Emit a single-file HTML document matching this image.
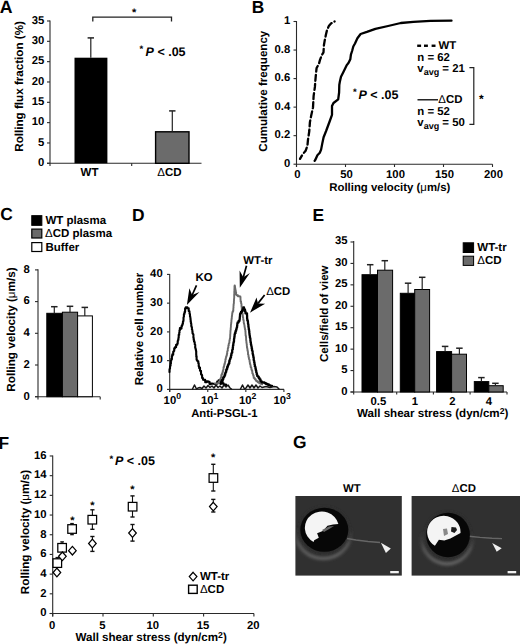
<!DOCTYPE html>
<html><head><meta charset="utf-8"><style>
html,body{margin:0;padding:0;background:#fff;width:520px;height:644px;overflow:hidden}
svg{display:block;font-family:"Liberation Sans", sans-serif;text-rendering:geometricPrecision}
</style></head><body>
<svg width="520" height="644" viewBox="0 0 520 644">
<defs>
<filter id="bl1" x="-20%" y="-20%" width="140%" height="140%"><feGaussianBlur stdDeviation="1.6"/></filter><filter id="bl05" x="-10%" y="-50%" width="120%" height="200%"><feGaussianBlur stdDeviation="0.5"/></filter><filter id="bl03" x="-10%" y="-10%" width="120%" height="120%"><feGaussianBlur stdDeviation="0.35"/></filter><linearGradient id="hg" x1="0" y1="0" x2="0" y2="1"><stop offset="0.35" stop-color="#3a3a3a" stop-opacity="0"/><stop offset="0.7" stop-color="#5a5a5a" stop-opacity="0.9"/><stop offset="1" stop-color="#666" stop-opacity="1"/></linearGradient><radialGradient id="halo" cx="0.5" cy="0.5" r="0.5"><stop offset="0.80" stop-color="#5c5c5c" stop-opacity="0.9"/><stop offset="0.9" stop-color="#555" stop-opacity="0.6"/><stop offset="1" stop-color="#444" stop-opacity="0"/></radialGradient>
</defs>
<rect width="520" height="644" fill="#fff"/>
<text id="t1" x="-0.30" y="12.60" font-size="17.7" text-anchor="start" font-weight="bold" font-style="normal" fill="#000" >A</text>
<line x1="50.00" y1="20.50" x2="50.00" y2="166.00" stroke="#2a2a2a" stroke-width="1.1" />
<line x1="47.00" y1="163.30" x2="50.00" y2="163.30" stroke="#2a2a2a" stroke-width="1.1" />
<text id="t2" x="44.30" y="166.10" font-size="11.3" text-anchor="end" font-weight="bold" font-style="normal" fill="#000" >0</text>
<line x1="47.00" y1="142.97" x2="50.00" y2="142.97" stroke="#2a2a2a" stroke-width="1.1" />
<text id="t3" x="44.30" y="145.77" font-size="11.3" text-anchor="end" font-weight="bold" font-style="normal" fill="#000" >5</text>
<line x1="47.00" y1="122.64" x2="50.00" y2="122.64" stroke="#2a2a2a" stroke-width="1.1" />
<text id="t4" x="44.30" y="125.44" font-size="11.3" text-anchor="end" font-weight="bold" font-style="normal" fill="#000" >10</text>
<line x1="47.00" y1="102.31" x2="50.00" y2="102.31" stroke="#2a2a2a" stroke-width="1.1" />
<text id="t5" x="44.30" y="105.11" font-size="11.3" text-anchor="end" font-weight="bold" font-style="normal" fill="#000" >15</text>
<line x1="47.00" y1="81.98" x2="50.00" y2="81.98" stroke="#2a2a2a" stroke-width="1.1" />
<text id="t6" x="44.30" y="84.78" font-size="11.3" text-anchor="end" font-weight="bold" font-style="normal" fill="#000" >20</text>
<line x1="47.00" y1="61.65" x2="50.00" y2="61.65" stroke="#2a2a2a" stroke-width="1.1" />
<text id="t7" x="44.30" y="64.45" font-size="11.3" text-anchor="end" font-weight="bold" font-style="normal" fill="#000" >25</text>
<line x1="47.00" y1="41.32" x2="50.00" y2="41.32" stroke="#2a2a2a" stroke-width="1.1" />
<text id="t8" x="44.30" y="44.12" font-size="11.3" text-anchor="end" font-weight="bold" font-style="normal" fill="#000" >30</text>
<line x1="47.00" y1="20.99" x2="50.00" y2="20.99" stroke="#2a2a2a" stroke-width="1.1" />
<text id="t9" x="44.30" y="23.79" font-size="11.3" text-anchor="end" font-weight="bold" font-style="normal" fill="#000" >35</text>
<line x1="47.00" y1="163.30" x2="201.50" y2="163.30" stroke="#2a2a2a" stroke-width="1.1" />
<line x1="131.70" y1="163.30" x2="131.70" y2="166.00" stroke="#2a2a2a" stroke-width="1.1" />
<rect x="74.50" y="57.70" width="32.90" height="105.60" fill="#000"/>
<line x1="90.80" y1="57.70" x2="90.80" y2="37.90" stroke="#222" stroke-width="1.2" />
<line x1="87.60" y1="37.90" x2="94.00" y2="37.90" stroke="#222" stroke-width="1.5" />
<rect x="155.60" y="131.80" width="33.40" height="31.50" fill="#6b6b6b" stroke="#000" stroke-width="1.4"/>
<line x1="172.30" y1="131.80" x2="172.30" y2="110.90" stroke="#222" stroke-width="1.2" />
<line x1="169.10" y1="110.90" x2="175.50" y2="110.90" stroke="#222" stroke-width="1.5" />
<text id="t10" x="89.50" y="176.10" font-size="11.5" text-anchor="middle" font-weight="bold" font-style="normal" fill="#000" >WT</text>
<text id="t11" x="169.40" y="176.10" font-size="11.5" text-anchor="middle" font-weight="bold" font-style="normal" fill="#000" ><tspan font-weight="normal">Δ</tspan>CD</text>
<polyline points="92.8,21.6 92.8,17.1 171.5,17.1 171.5,21.6" fill="none" stroke="#222" stroke-width="1.3"/>
<text id="t12" x="134.20" y="16.40" font-size="11" text-anchor="middle" font-weight="bold" font-style="normal" fill="#000" >*</text>
<text id="t13" x="139.60" y="52.30" font-size="9.5" text-anchor="start" font-weight="bold" font-style="normal" fill="#000" >*</text>
<text id="t14" x="145.60" y="55.70" font-size="12.5" text-anchor="start" font-weight="bold" font-style="normal" fill="#000" ><tspan font-style="italic">P</tspan> &lt; .05</text>
<text id="t15" transform="translate(22.70,86.40) rotate(-90)" font-size="11.65" text-anchor="middle" font-weight="bold">Rolling flux fraction (%)</text>
<text id="t16" x="251.80" y="12.60" font-size="17.4" text-anchor="start" font-weight="bold" font-style="normal" fill="#000" >B</text>
<line x1="296.50" y1="21.00" x2="296.50" y2="167.00" stroke="#2a2a2a" stroke-width="1.1" />
<line x1="293.50" y1="164.20" x2="296.50" y2="164.20" stroke="#2a2a2a" stroke-width="1.1" />
<text id="t17" x="290.30" y="166.80" font-size="11.3" text-anchor="end" font-weight="bold" font-style="normal" fill="#000" >0</text>
<line x1="293.50" y1="135.66" x2="296.50" y2="135.66" stroke="#2a2a2a" stroke-width="1.1" />
<text id="t18" x="290.30" y="138.26" font-size="11.3" text-anchor="end" font-weight="bold" font-style="normal" fill="#000" >0.2</text>
<line x1="293.50" y1="107.12" x2="296.50" y2="107.12" stroke="#2a2a2a" stroke-width="1.1" />
<text id="t19" x="290.30" y="109.72" font-size="11.3" text-anchor="end" font-weight="bold" font-style="normal" fill="#000" >0.4</text>
<line x1="293.50" y1="78.58" x2="296.50" y2="78.58" stroke="#2a2a2a" stroke-width="1.1" />
<text id="t20" x="290.30" y="81.18" font-size="11.3" text-anchor="end" font-weight="bold" font-style="normal" fill="#000" >0.6</text>
<line x1="293.50" y1="50.04" x2="296.50" y2="50.04" stroke="#2a2a2a" stroke-width="1.1" />
<text id="t21" x="290.30" y="52.64" font-size="11.3" text-anchor="end" font-weight="bold" font-style="normal" fill="#000" >0.8</text>
<line x1="293.50" y1="21.50" x2="296.50" y2="21.50" stroke="#2a2a2a" stroke-width="1.1" />
<text id="t22" x="290.30" y="24.10" font-size="11.3" text-anchor="end" font-weight="bold" font-style="normal" fill="#000" >1</text>
<line x1="296.50" y1="164.20" x2="492.50" y2="164.20" stroke="#2a2a2a" stroke-width="1.1" />
<line x1="296.50" y1="164.20" x2="296.50" y2="167.00" stroke="#2a2a2a" stroke-width="1.1" />
<text id="t23" x="297.50" y="178.20" font-size="11.3" text-anchor="middle" font-weight="bold" font-style="normal" fill="#000" >0</text>
<line x1="345.50" y1="164.20" x2="345.50" y2="167.00" stroke="#2a2a2a" stroke-width="1.1" />
<text id="t24" x="346.50" y="178.20" font-size="11.3" text-anchor="middle" font-weight="bold" font-style="normal" fill="#000" >50</text>
<line x1="394.50" y1="164.20" x2="394.50" y2="167.00" stroke="#2a2a2a" stroke-width="1.1" />
<text id="t25" x="395.50" y="178.20" font-size="11.3" text-anchor="middle" font-weight="bold" font-style="normal" fill="#000" >100</text>
<line x1="443.50" y1="164.20" x2="443.50" y2="167.00" stroke="#2a2a2a" stroke-width="1.1" />
<text id="t26" x="444.50" y="178.20" font-size="11.3" text-anchor="middle" font-weight="bold" font-style="normal" fill="#000" >150</text>
<line x1="492.50" y1="164.20" x2="492.50" y2="167.00" stroke="#2a2a2a" stroke-width="1.1" />
<text id="t27" x="493.50" y="178.20" font-size="11.3" text-anchor="middle" font-weight="bold" font-style="normal" fill="#000" >200</text>
<text id="t28" x="389.80" y="190.50" font-size="11.4" text-anchor="middle" font-weight="bold" font-style="normal" fill="#000" >Rolling velocity (<tspan font-weight="normal">μ</tspan>m/s)</text>
<text id="t29" transform="translate(266.60,91.20) rotate(-90)" font-size="11.58" text-anchor="middle" font-weight="bold">Cumulative frequency</text>
<polyline points="300.0,158.9 302.5,154.6 305.6,150.8 307.4,145.9 308.0,139.7 309.3,131.0 309.9,122.3 311.1,116.1 313.0,107.4 313.6,96.2 314.9,86.9 315.4,80.2 316.0,73.3 316.6,68.0 318.9,63.9 320.0,59.9 321.8,55.2 323.5,52.3 323.9,45.3 324.7,40.6 325.9,34.8 327.0,30.1 328.8,26.1 331.0,23.5 334.6,21.4" fill="none" stroke="#000" stroke-width="2.3" stroke-linejoin="round" stroke-linecap="round" stroke-dasharray="6 3.2" stroke-dashoffset="2" stroke-linecap="butt"/>
<polyline points="314.6,160.8 315.5,159.5 317.4,155.2 319.8,152.7 321.1,149.6 322.3,143.4 323.6,137.2 326.1,131.0 329.8,121.0 332.0,114.8 332.0,106.1 333.5,103.0 338.2,99.3 339.1,92.5 339.3,85.0 339.9,81.4 341.0,76.8 343.9,70.9 346.8,65.1 348.6,62.8 350.3,59.3 350.9,54.6 352.1,51.0 353.3,46.5 355.0,43.5 357.4,38.3 360.6,34.0 366.9,31.9 375.4,28.8 388.1,26.0 400.8,23.0 413.5,21.8 430.4,20.9 451.5,20.7" fill="none" stroke="#000" stroke-width="2.3" stroke-linejoin="round" stroke-linecap="round" />
<line x1="417.20" y1="45.75" x2="421.10" y2="45.75" stroke="#000" stroke-width="2.4" />
<line x1="424.00" y1="45.75" x2="427.90" y2="45.75" stroke="#000" stroke-width="2.4" />
<line x1="431.60" y1="45.75" x2="435.50" y2="45.75" stroke="#000" stroke-width="2.4" />
<text id="t30" x="438.60" y="49.20" font-size="11.4" text-anchor="start" font-weight="bold" font-style="normal" fill="#000" >WT</text>
<text id="t31" x="417.30" y="61.00" font-size="11.4" text-anchor="start" font-weight="bold" font-style="normal" fill="#000" >n = 62</text>
<text id="t32" x="417.30" y="71.90" font-size="11.4" text-anchor="start" font-weight="bold" font-style="normal" fill="#000" >v<tspan font-size="9" dy="3.4">avg</tspan><tspan dy="-3.4"> = 21</tspan></text>
<line x1="417.50" y1="99.80" x2="438.00" y2="99.80" stroke="#000" stroke-width="1.3" />
<text id="t33" x="438.30" y="102.70" font-size="11.4" text-anchor="start" font-weight="bold" font-style="normal" fill="#000" ><tspan font-weight="normal">Δ</tspan>CD</text>
<text id="t34" x="417.30" y="114.80" font-size="11.4" text-anchor="start" font-weight="bold" font-style="normal" fill="#000" >n = 52</text>
<text id="t35" x="417.30" y="126.00" font-size="11.4" text-anchor="start" font-weight="bold" font-style="normal" fill="#000" >v<tspan font-size="9" dy="3.4">avg</tspan><tspan dy="-3.4"> = 50</tspan></text>
<polyline points="469.4,67.6 473.8,67.6 473.8,124.3 469.4,124.3" fill="none" stroke="#222" stroke-width="1.2"/>
<text id="t36" x="481.40" y="103.00" font-size="12" text-anchor="middle" font-weight="bold" font-style="normal" fill="#000" >*</text>
<text id="t37" x="353.00" y="94.90" font-size="9.5" text-anchor="start" font-weight="bold" font-style="normal" fill="#000" >*</text>
<text id="t38" x="358.50" y="98.90" font-size="12.5" text-anchor="start" font-weight="bold" font-style="normal" fill="#000" ><tspan font-style="italic">P</tspan> &lt; .05</text>
<text id="t39" x="0.30" y="220.30" font-size="17.4" text-anchor="start" font-weight="bold" font-style="normal" fill="#000" >C</text>
<rect x="31.80" y="215.70" width="10.00" height="9.60" fill="#000" stroke="#000" stroke-width="1.1"/>
<rect x="31.80" y="229.10" width="10.00" height="8.90" fill="#6b6b6b" stroke="#000" stroke-width="1.2"/>
<rect x="31.80" y="242.60" width="10.00" height="8.90" fill="#fff" stroke="#000" stroke-width="1.2"/>
<text id="t40" x="45.40" y="223.60" font-size="11.5" text-anchor="start" font-weight="bold" font-style="normal" fill="#000" >WT plasma</text>
<text id="t41" x="45.00" y="237.40" font-size="11.5" text-anchor="start" font-weight="bold" font-style="normal" fill="#000" ><tspan font-weight="normal">Δ</tspan>CD plasma</text>
<text id="t42" x="45.40" y="250.80" font-size="11.5" text-anchor="start" font-weight="bold" font-style="normal" fill="#000" >Buffer</text>
<line x1="38.00" y1="269.30" x2="38.00" y2="399.50" stroke="#2a2a2a" stroke-width="1.1" />
<line x1="35.00" y1="396.70" x2="38.00" y2="396.70" stroke="#2a2a2a" stroke-width="1.1" />
<text id="t43" x="29.80" y="399.50" font-size="11.3" text-anchor="end" font-weight="bold" font-style="normal" fill="#000" >0</text>
<line x1="35.00" y1="365.00" x2="38.00" y2="365.00" stroke="#2a2a2a" stroke-width="1.1" />
<text id="t44" x="29.80" y="367.80" font-size="11.3" text-anchor="end" font-weight="bold" font-style="normal" fill="#000" >2</text>
<line x1="35.00" y1="333.30" x2="38.00" y2="333.30" stroke="#2a2a2a" stroke-width="1.1" />
<text id="t45" x="29.80" y="336.10" font-size="11.3" text-anchor="end" font-weight="bold" font-style="normal" fill="#000" >4</text>
<line x1="35.00" y1="301.60" x2="38.00" y2="301.60" stroke="#2a2a2a" stroke-width="1.1" />
<text id="t46" x="29.80" y="304.40" font-size="11.3" text-anchor="end" font-weight="bold" font-style="normal" fill="#000" >6</text>
<line x1="35.00" y1="269.90" x2="38.00" y2="269.90" stroke="#2a2a2a" stroke-width="1.1" />
<text id="t47" x="29.80" y="272.70" font-size="11.3" text-anchor="end" font-weight="bold" font-style="normal" fill="#000" >8</text>
<line x1="35.00" y1="396.70" x2="100.20" y2="396.70" stroke="#2a2a2a" stroke-width="1.1" />
<line x1="100.20" y1="396.70" x2="100.20" y2="399.50" stroke="#2a2a2a" stroke-width="1.1" />
<rect x="46.80" y="313.30" width="15.60" height="83.40" fill="#000" stroke="#000" stroke-width="1.0"/>
<rect x="62.40" y="312.20" width="15.20" height="84.50" fill="#6b6b6b" stroke="#000" stroke-width="1.0"/>
<rect x="77.60" y="315.90" width="14.80" height="80.80" fill="#fff" stroke="#000" stroke-width="1.0"/>
<line x1="54.30" y1="313.30" x2="54.30" y2="306.70" stroke="#222" stroke-width="1.2" />
<line x1="51.05" y1="306.70" x2="57.55" y2="306.70" stroke="#222" stroke-width="1.5" />
<line x1="70.00" y1="312.20" x2="70.00" y2="306.30" stroke="#222" stroke-width="1.2" />
<line x1="66.75" y1="306.30" x2="73.25" y2="306.30" stroke="#222" stroke-width="1.5" />
<line x1="84.80" y1="315.90" x2="84.80" y2="307.40" stroke="#222" stroke-width="1.2" />
<line x1="81.55" y1="307.40" x2="88.05" y2="307.40" stroke="#222" stroke-width="1.5" />
<text id="t48" transform="translate(15.40,329.50) rotate(-90)" font-size="11.7" text-anchor="middle" font-weight="bold">Rolling velocity (<tspan font-weight="normal">μ</tspan>m/s)</text>
<text id="t49" x="131.90" y="220.50" font-size="17.4" text-anchor="start" font-weight="bold" font-style="normal" fill="#000" >D</text>
<line x1="169.70" y1="273.90" x2="169.70" y2="392.00" stroke="#2a2a2a" stroke-width="1.1" />
<line x1="167.00" y1="389.40" x2="169.70" y2="389.40" stroke="#2a2a2a" stroke-width="1.1" />
<text id="t50" x="162.70" y="392.00" font-size="11.3" text-anchor="end" font-weight="bold" font-style="normal" fill="#000" >0</text>
<line x1="167.00" y1="360.65" x2="169.70" y2="360.65" stroke="#2a2a2a" stroke-width="1.1" />
<text id="t51" x="162.70" y="363.25" font-size="11.3" text-anchor="end" font-weight="bold" font-style="normal" fill="#000" >10</text>
<line x1="167.00" y1="331.90" x2="169.70" y2="331.90" stroke="#2a2a2a" stroke-width="1.1" />
<text id="t52" x="162.70" y="334.50" font-size="11.3" text-anchor="end" font-weight="bold" font-style="normal" fill="#000" >20</text>
<line x1="167.00" y1="303.15" x2="169.70" y2="303.15" stroke="#2a2a2a" stroke-width="1.1" />
<text id="t53" x="162.70" y="305.75" font-size="11.3" text-anchor="end" font-weight="bold" font-style="normal" fill="#000" >30</text>
<line x1="167.00" y1="274.40" x2="169.70" y2="274.40" stroke="#2a2a2a" stroke-width="1.1" />
<text id="t54" x="162.70" y="277.00" font-size="11.3" text-anchor="end" font-weight="bold" font-style="normal" fill="#000" >40</text>
<line x1="169.70" y1="389.40" x2="284.10" y2="389.40" stroke="#2a2a2a" stroke-width="1.1" />
<line x1="169.70" y1="389.40" x2="169.70" y2="392.00" stroke="#2a2a2a" stroke-width="1.1" />
<text id="t55" x="163.60" y="403.90" font-size="11.3" text-anchor="start" font-weight="bold" font-style="normal" fill="#000" >10<tspan font-size="8.7" dy="-4.6">0</tspan></text>
<line x1="207.77" y1="389.40" x2="207.77" y2="392.00" stroke="#2a2a2a" stroke-width="1.1" />
<text id="t56" x="201.00" y="403.90" font-size="11.3" text-anchor="start" font-weight="bold" font-style="normal" fill="#000" >10<tspan font-size="8.7" dy="-4.6">1</tspan></text>
<line x1="245.84" y1="389.40" x2="245.84" y2="392.00" stroke="#2a2a2a" stroke-width="1.1" />
<text id="t57" x="238.90" y="403.90" font-size="11.3" text-anchor="start" font-weight="bold" font-style="normal" fill="#000" >10<tspan font-size="8.7" dy="-4.6">2</tspan></text>
<line x1="283.91" y1="389.40" x2="283.91" y2="392.00" stroke="#2a2a2a" stroke-width="1.1" />
<text id="t58" x="273.50" y="403.90" font-size="11.3" text-anchor="start" font-weight="bold" font-style="normal" fill="#000" >10<tspan font-size="8.7" dy="-4.6">3</tspan></text>
<text id="t59" x="224.40" y="417.00" font-size="11.3" text-anchor="middle" font-weight="bold" font-style="normal" fill="#000" >Anti-PSGL-1</text>
<text id="t60" transform="translate(143.40,329.00) rotate(-90)" font-size="11.58" text-anchor="middle" font-weight="bold">Relative cell number</text>
<polyline points="169.4,372.0 169.5,372.0 169.5,369.6 169.7,369.6 169.7,368.7 170.0,368.7 170.0,366.6 170.3,366.6 170.3,365.5 170.6,365.5 170.6,363.8 170.9,363.8 170.9,360.7 171.3,360.7 171.3,358.9 171.6,358.9 171.6,359.3 171.9,359.3 171.9,356.1 172.3,356.1 172.3,354.4 172.7,354.4 172.7,354.7 173.2,354.7 173.2,351.7 173.7,351.7 173.7,351.0 174.2,351.0 174.2,348.4 174.9,348.4 174.9,347.3 176.1,347.3 176.1,344.8 176.9,344.8 176.9,344.7 177.3,344.7 177.3,343.6 177.7,343.6 177.7,341.0 178.1,341.0 178.1,339.9 178.4,339.9 178.4,338.1 178.7,338.1 178.7,334.8 178.9,334.8 178.9,334.9 179.2,334.9 179.2,332.8 179.5,332.8 179.5,330.3 179.9,330.3 179.9,328.0 180.7,328.0 180.7,328.6 181.5,328.6 181.5,326.1 182.1,326.1 182.1,325.1 182.5,325.1 182.5,323.9 182.9,323.9 182.9,321.8 183.3,321.8 183.3,320.6 183.5,320.6 183.5,317.6 183.7,317.6 183.7,316.9 183.9,316.9 183.9,314.3 184.1,314.3 184.1,313.9 184.5,313.9 184.5,312.1 185.1,312.1 185.1,308.4 185.8,308.4 185.8,307.3 187.4,307.3 187.4,308.2 188.7,308.2 188.7,311.1 189.2,311.1 189.2,311.4 189.5,311.4 189.5,313.6 189.8,313.6 189.8,314.4 190.0,314.4 190.0,316.7 190.3,316.7 190.3,318.0 190.5,318.0 190.5,319.7 190.7,319.7 190.7,322.0 191.0,322.0 191.0,323.7 191.3,323.7 191.3,326.2 191.6,326.2 191.6,327.3 191.9,327.3 191.9,329.6 192.2,329.6 192.2,331.1 192.5,331.1 192.5,333.2 192.8,333.2 192.8,334.0 193.1,334.0 193.1,334.4 193.4,334.4 193.4,337.9 193.7,337.9 193.7,339.9 194.0,339.9 194.0,341.4 194.4,341.4 194.4,342.2 194.7,342.2 194.7,344.3 194.9,344.3 194.9,344.7 195.2,344.7 195.2,348.0 195.5,348.0 195.5,349.0 195.8,349.0 195.8,349.9 196.0,349.9 196.0,351.1 196.2,351.1 196.2,354.8 196.3,354.8 196.3,356.9 196.5,356.9 196.5,356.3 196.6,356.3 196.6,359.8 196.9,359.8 196.9,360.5 197.6,360.5 197.6,361.3 198.3,361.3 198.3,363.3 198.7,363.3 198.7,366.2 199.1,366.2 199.1,368.1 199.5,368.1 199.5,367.6 200.0,367.6 200.0,370.8 200.5,370.8 200.5,370.9 201.0,370.9 201.0,374.3 201.5,374.3 201.5,375.0 202.1,375.0 202.1,378.0 203.0,378.0 203.0,379.7 203.9,379.7 203.9,379.9 205.2,379.9 205.2,382.3 206.7,382.3 206.7,381.4 208.1,381.4 208.1,381.7 209.5,381.7 209.5,384.1 210.9,384.1 210.9,383.6 212.5,383.6 212.5,383.7 214.2,383.7 214.2,383.9 215.8,383.9 215.8,383.8 217.2,383.8 217.2,381.6 218.6,381.6 218.6,380.4 220.1,380.4 220.1,381.7 221.5,381.7 221.5,380.4 222.5,380.4 222.5,383.4 223.6,383.4 223.6,384.6 224.8,384.6 224.8,384.5 226.0,384.5 226.0,386.0" fill="none" stroke="#000" stroke-width="2.1" stroke-linejoin="round" stroke-linecap="round" />
<polyline points="215.0,383.6 216.6,383.6 216.6,383.5 217.9,383.5 217.9,382.9 218.8,382.9 218.8,381.7 219.7,381.7 219.7,380.5 220.3,380.5 220.3,378.8 220.8,378.8 220.8,377.5 221.3,377.5 221.3,374.9 221.8,374.9 221.8,373.9 222.2,373.9 222.2,372.9 222.7,372.9 222.7,371.0 223.2,371.0 223.2,369.8 223.5,369.8 223.5,367.3 223.9,367.3 223.9,366.1 224.3,366.1 224.3,364.3 224.7,364.3 224.7,363.1 225.1,363.1 225.1,361.6 225.4,361.6 225.4,359.3 225.8,359.3 225.8,358.0 226.1,358.0 226.1,356.5 226.5,356.5 226.5,355.7 226.8,355.7 226.8,353.9 227.2,353.9 227.2,351.6 227.5,351.6 227.5,350.8 227.8,350.8 227.8,348.5 228.1,348.5 228.1,347.5 228.4,347.5 228.4,345.3 228.8,345.3 228.8,343.6 229.1,343.6 229.1,343.0 229.4,343.0 229.4,340.7 229.7,340.7 229.7,339.1 229.9,339.1 229.9,338.4 230.1,338.4 230.1,336.7 230.2,336.7 230.2,334.4 230.3,334.4 230.3,333.6 230.4,333.6 230.4,331.5 230.5,331.5 230.5,330.1 230.7,330.1 230.7,327.9 230.8,327.9 230.8,327.2 230.9,327.2 230.9,325.3 231.0,325.3 231.0,324.0 231.2,324.0 231.2,322.3 231.4,322.3 231.4,320.0 231.6,320.0 231.6,318.5 231.8,318.5 231.8,316.6 232.0,316.6 232.0,315.0 232.2,315.0 232.2,313.3 232.4,313.3 232.4,312.0 232.9,312.0 232.9,310.9 233.3,310.9 233.3,308.6 233.4,308.6 233.4,307.8 233.5,307.8 233.5,305.8 233.6,305.8 233.6,304.1 233.8,304.1 233.8,303.2 233.9,303.2 233.9,301.1 234.0,301.1 234.0,299.3 234.1,299.3 234.1,297.9 234.2,297.9 234.2,296.6 234.2,296.6 234.2,294.2 234.3,294.2 234.3,293.7 234.3,293.7 234.3,291.0 234.4,291.0 234.4,290.2 234.4,290.2 234.4,288.7 234.5,288.7 234.5,286.1 234.6,286.1 234.6,285.4 234.8,285.4 234.8,285.9 235.0,285.9 235.0,287.8 235.2,287.8 235.2,288.7 235.4,288.7 235.4,290.3 235.7,290.3 235.7,292.1 236.1,292.1 236.1,294.6 236.5,294.6 236.5,295.2 237.9,295.2 237.9,296.2 239.5,296.2 239.5,296.5 240.4,296.5 240.4,297.2 240.5,297.2 240.5,298.1 240.5,298.1 240.5,299.7 240.6,299.7 240.6,301.5 241.1,301.5 241.1,303.4 241.4,303.4 241.4,304.1 241.5,304.1 241.5,306.5 241.7,306.5 241.7,308.1 241.8,308.1 241.8,309.8 242.0,309.8 242.0,310.4 242.2,310.4 242.2,313.1 242.5,313.1 242.5,313.7 242.7,313.7 242.7,315.6 242.9,315.6 242.9,317.5 243.2,317.5 243.2,319.4 243.4,319.4 243.4,320.3 243.7,320.3 243.7,322.6 243.9,322.6 243.9,323.8 244.2,323.8 244.2,325.1 244.5,325.1 244.5,326.6 244.7,326.6 244.7,328.1 245.0,328.1 245.0,329.5 245.3,329.5 245.3,331.2 245.5,331.2 245.5,333.4 245.6,333.4 245.6,335.4 245.8,335.4 245.8,336.0 246.0,336.0 246.0,337.5 246.1,337.5 246.1,340.2 246.3,340.2 246.3,341.3 246.4,341.3 246.4,342.7 246.6,342.7 246.6,344.1 246.8,344.1 246.8,346.1 247.0,346.1 247.0,348.0 247.3,348.0 247.3,349.1 247.5,349.1 247.5,350.7 247.8,350.7 247.8,351.8 248.0,351.8 248.0,354.5 248.3,354.5 248.3,355.0 248.5,355.0 248.5,357.1 248.9,357.1 248.9,359.1 249.2,359.1 249.2,359.8 249.6,359.8 249.6,362.1 249.9,362.1 249.9,364.0 250.3,364.0 250.3,365.1 250.6,365.1 250.6,366.9 251.0,366.9 251.0,367.7 251.4,367.7 251.4,369.6 251.8,369.6 251.8,370.8 252.3,370.8 252.3,373.2 252.7,373.2 252.7,374.1 253.2,374.1 253.2,375.8 253.7,375.8 253.7,377.9 254.7,377.9 254.7,379.1 255.7,379.1 255.7,380.5 256.6,380.5 256.6,381.2 257.8,381.2 257.8,382.3 259.2,382.3 259.2,383.3 260.7,383.3 260.7,383.7 262.1,383.7 262.1,384.4" fill="none" stroke="#6a6a6a" stroke-width="1.9" stroke-linejoin="round" stroke-linecap="round" />
<polyline points="220.4,383.8 221.1,383.8 221.1,382.1 221.7,382.1 221.7,380.5 222.4,380.5 222.4,379.6 223.2,379.6 223.2,377.5 223.9,377.5 223.9,376.6 224.6,376.6 224.6,375.0 225.2,375.0 225.2,373.1 225.7,373.1 225.7,372.1 226.2,372.1 226.2,370.0 226.7,370.0 226.7,369.0 227.2,369.0 227.2,367.0 227.8,367.0 227.8,365.5 228.3,365.5 228.3,364.4 228.8,364.4 228.8,363.4 229.3,363.4 229.3,361.0 229.8,361.0 229.8,359.6 230.2,359.6 230.2,358.5 230.6,358.5 230.6,357.4 231.0,357.4 231.0,355.4 231.4,355.4 231.4,353.6 231.8,353.6 231.8,352.7 232.2,352.7 232.2,350.1 232.5,350.1 232.5,349.5 232.8,349.5 232.8,347.2 233.0,347.2 233.0,345.4 233.3,345.4 233.3,343.8 233.5,343.8 233.5,342.5 233.8,342.5 233.8,341.5 234.0,341.5 234.0,339.1 234.2,339.1 234.2,338.0 234.4,338.0 234.4,336.5 234.6,336.5 234.6,334.6 234.9,334.6 234.9,333.2 235.5,333.2 235.5,331.1 236.1,331.1 236.1,329.7 236.5,329.7 236.5,328.3 236.8,328.3 236.8,327.3 237.1,327.3 237.1,325.4 237.3,325.4 237.3,323.7 237.6,323.7 237.6,322.4 238.6,322.4 238.6,321.0 239.5,321.0 239.5,319.5 239.7,319.5 239.7,318.5 239.8,318.5 239.8,316.8 240.0,316.8 240.0,314.6 240.2,314.6 240.2,313.4 241.0,313.4 241.0,312.0 241.8,312.0 241.8,311.0 242.6,311.0 242.6,309.4 243.3,309.4 243.3,307.5 244.0,307.5 244.0,309.1 244.6,309.1 244.6,309.6 245.0,309.6 245.0,311.5 245.5,311.5 245.5,313.4 246.9,313.4 246.9,313.3 247.0,313.3 247.0,315.3 247.1,315.3 247.1,316.4 247.1,316.4 247.1,318.7 247.3,318.7 247.3,320.4 247.8,320.4 247.8,321.7 248.0,321.7 248.0,323.7 248.2,323.7 248.2,324.6 248.4,324.6 248.4,326.7 248.6,326.7 248.6,328.1 248.8,328.1 248.8,329.7 249.1,329.7 249.1,331.1 249.3,331.1 249.3,333.2 249.5,333.2 249.5,334.9 249.7,334.9 249.7,335.9 249.9,335.9 249.9,337.8 250.2,337.8 250.2,338.6 250.4,338.6 250.4,341.0 250.6,341.0 250.6,342.5 250.9,342.5 250.9,344.5 251.2,344.5 251.2,345.9 251.5,345.9 251.5,346.8 251.7,346.8 251.7,348.5 252.0,348.5 252.0,350.4 252.3,350.4 252.3,351.2 252.6,351.2 252.6,353.4 252.8,353.4 252.8,354.6 253.1,354.6 253.1,356.1 253.4,356.1 253.4,357.6 253.7,357.6 253.7,360.1 253.9,360.1 253.9,360.9 254.2,360.9 254.2,362.6 254.5,362.6 254.5,364.4 254.8,364.4 254.8,366.5 255.2,366.5 255.2,367.1 255.5,367.1 255.5,369.1 255.9,369.1 255.9,370.8 256.3,370.8 256.3,372.8 256.7,372.8 256.7,374.2 257.1,374.2 257.1,375.9 257.8,375.9 257.8,376.6 258.7,376.6 258.7,378.1 259.6,378.1 259.6,379.4 260.5,379.4 260.5,381.3 261.7,381.3 261.7,382.4 263.0,382.4 263.0,382.4 264.4,382.4 264.4,383.2 265.9,383.2 265.9,383.9 267.3,383.9 267.3,384.5 268.8,384.5 268.8,385.4 270.4,385.4 270.4,385.8 272.0,385.8 272.0,386.0" fill="none" stroke="#000" stroke-width="2.3" stroke-linejoin="round" stroke-linecap="round" />
<polyline points="192.5,389.0 194.5,385.0 196.5,389.0 198.0,388.0 200.0,387.5 202.0,388.5 204.0,386.0 206.0,388.0 208.0,385.5 210.0,387.5 212.0,386.0 214.0,388.0 216.0,385.0 218.0,387.5 220.0,386.0 222.0,388.0 224.0,385.0 226.0,387.0 228.0,385.0 230.0,388.0 231.5,389.0" fill="none" stroke="#151515" stroke-width="1.5" stroke-linejoin="round" stroke-linecap="round" />
<polyline points="240.5,389.0 242.5,385.0 244.5,389.0 246.0,388.0 248.0,385.0 250.0,388.0 252.0,385.0 254.0,388.0 256.0,385.0 258.0,388.0 260.0,386.0 262.0,387.5 266.0,386.5 270.0,387.5 274.0,386.5 277.0,387.0 279.0,389.0" fill="none" stroke="#151515" stroke-width="1.5" stroke-linejoin="round" stroke-linecap="round" />
<line x1="196.50" y1="285.40" x2="192.20" y2="295.00" stroke="#000" stroke-width="1.7" />
<polygon points="186.9,305.0 189.36,288.2 192.2,295.0 199.44,292.12" fill="#000"/>
<line x1="246.50" y1="265.80" x2="243.30" y2="277.20" stroke="#000" stroke-width="1.7" />
<polygon points="239.8,287.7 239.58,270.45 243.3,277.2 249.88,273.03" fill="#000"/>
<line x1="264.60" y1="295.00" x2="258.00" y2="303.40" stroke="#000" stroke-width="1.7" />
<polygon points="250.0,312.7 256.5,297.58 258.0,303.4 265.12,303.63" fill="#000"/>
<text id="t61" x="195.60" y="281.30" font-size="11.4" text-anchor="start" font-weight="bold" font-style="normal" fill="#000" >KO</text>
<text id="t62" x="243.30" y="263.50" font-size="11.4" text-anchor="start" font-weight="bold" font-style="normal" fill="#000" >WT-tr</text>
<text id="t63" x="266.20" y="295.10" font-size="11.4" text-anchor="start" font-weight="bold" font-style="normal" fill="#000" ><tspan font-weight="normal">Δ</tspan>CD</text>
<text id="t64" x="312.60" y="220.50" font-size="17.4" text-anchor="start" font-weight="bold" font-style="normal" fill="#000" >E</text>
<line x1="353.70" y1="241.00" x2="353.70" y2="394.60" stroke="#2a2a2a" stroke-width="1.1" />
<line x1="350.50" y1="392.00" x2="353.70" y2="392.00" stroke="#2a2a2a" stroke-width="1.1" />
<text id="t65" x="347.60" y="394.50" font-size="11.3" text-anchor="end" font-weight="bold" font-style="normal" fill="#000" >0</text>
<line x1="350.50" y1="370.57" x2="353.70" y2="370.57" stroke="#2a2a2a" stroke-width="1.1" />
<text id="t66" x="347.60" y="373.07" font-size="11.3" text-anchor="end" font-weight="bold" font-style="normal" fill="#000" >5</text>
<line x1="350.50" y1="349.14" x2="353.70" y2="349.14" stroke="#2a2a2a" stroke-width="1.1" />
<text id="t67" x="347.60" y="351.64" font-size="11.3" text-anchor="end" font-weight="bold" font-style="normal" fill="#000" >10</text>
<line x1="350.50" y1="327.71" x2="353.70" y2="327.71" stroke="#2a2a2a" stroke-width="1.1" />
<text id="t68" x="347.60" y="330.21" font-size="11.3" text-anchor="end" font-weight="bold" font-style="normal" fill="#000" >15</text>
<line x1="350.50" y1="306.28" x2="353.70" y2="306.28" stroke="#2a2a2a" stroke-width="1.1" />
<text id="t69" x="347.60" y="308.78" font-size="11.3" text-anchor="end" font-weight="bold" font-style="normal" fill="#000" >20</text>
<line x1="350.50" y1="284.85" x2="353.70" y2="284.85" stroke="#2a2a2a" stroke-width="1.1" />
<text id="t70" x="347.60" y="287.35" font-size="11.3" text-anchor="end" font-weight="bold" font-style="normal" fill="#000" >25</text>
<line x1="350.50" y1="263.42" x2="353.70" y2="263.42" stroke="#2a2a2a" stroke-width="1.1" />
<text id="t71" x="347.60" y="265.92" font-size="11.3" text-anchor="end" font-weight="bold" font-style="normal" fill="#000" >30</text>
<line x1="350.50" y1="241.99" x2="353.70" y2="241.99" stroke="#2a2a2a" stroke-width="1.1" />
<text id="t72" x="347.60" y="244.49" font-size="11.3" text-anchor="end" font-weight="bold" font-style="normal" fill="#000" >35</text>
<line x1="350.50" y1="392.00" x2="507.00" y2="392.00" stroke="#2a2a2a" stroke-width="1.1" />
<line x1="396.70" y1="392.00" x2="396.70" y2="394.60" stroke="#2a2a2a" stroke-width="1.1" />
<line x1="433.40" y1="392.00" x2="433.40" y2="394.60" stroke="#2a2a2a" stroke-width="1.1" />
<line x1="470.10" y1="392.00" x2="470.10" y2="394.60" stroke="#2a2a2a" stroke-width="1.1" />
<line x1="507.00" y1="392.00" x2="507.00" y2="394.60" stroke="#2a2a2a" stroke-width="1.1" />
<rect x="362.00" y="274.70" width="15.50" height="117.30" fill="#000" stroke="#000" stroke-width="1.0"/>
<rect x="377.50" y="270.20" width="15.10" height="121.80" fill="#6b6b6b" stroke="#000" stroke-width="1.0"/>
<line x1="370.20" y1="274.70" x2="370.20" y2="264.70" stroke="#222" stroke-width="1.2" />
<line x1="366.95" y1="264.70" x2="373.45" y2="264.70" stroke="#222" stroke-width="1.5" />
<line x1="384.80" y1="270.20" x2="384.80" y2="260.70" stroke="#222" stroke-width="1.2" />
<line x1="381.55" y1="260.70" x2="388.05" y2="260.70" stroke="#222" stroke-width="1.5" />
<rect x="400.30" y="293.30" width="14.40" height="98.70" fill="#000" stroke="#000" stroke-width="1.0"/>
<rect x="414.70" y="289.50" width="14.90" height="102.50" fill="#6b6b6b" stroke="#000" stroke-width="1.0"/>
<line x1="408.10" y1="293.30" x2="408.10" y2="283.20" stroke="#222" stroke-width="1.2" />
<line x1="404.85" y1="283.20" x2="411.35" y2="283.20" stroke="#222" stroke-width="1.5" />
<line x1="422.20" y1="289.50" x2="422.20" y2="277.30" stroke="#222" stroke-width="1.2" />
<line x1="418.95" y1="277.30" x2="425.45" y2="277.30" stroke="#222" stroke-width="1.5" />
<rect x="436.60" y="351.60" width="15.00" height="40.40" fill="#000" stroke="#000" stroke-width="1.0"/>
<rect x="451.60" y="354.20" width="14.90" height="37.80" fill="#6b6b6b" stroke="#000" stroke-width="1.0"/>
<line x1="445.10" y1="351.60" x2="445.10" y2="346.40" stroke="#222" stroke-width="1.2" />
<line x1="441.85" y1="346.40" x2="448.35" y2="346.40" stroke="#222" stroke-width="1.5" />
<line x1="459.40" y1="354.20" x2="459.40" y2="348.20" stroke="#222" stroke-width="1.2" />
<line x1="456.15" y1="348.20" x2="462.65" y2="348.20" stroke="#222" stroke-width="1.5" />
<rect x="474.30" y="381.60" width="14.50" height="10.40" fill="#000" stroke="#000" stroke-width="1.0"/>
<rect x="488.80" y="385.70" width="14.40" height="6.30" fill="#6b6b6b" stroke="#000" stroke-width="1.0"/>
<line x1="481.40" y1="381.60" x2="481.40" y2="377.60" stroke="#222" stroke-width="1.2" />
<line x1="478.15" y1="377.60" x2="484.65" y2="377.60" stroke="#222" stroke-width="1.5" />
<line x1="495.40" y1="385.70" x2="495.40" y2="383.30" stroke="#222" stroke-width="1.2" />
<line x1="492.15" y1="383.30" x2="498.65" y2="383.30" stroke="#222" stroke-width="1.5" />
<text id="t73" x="378.40" y="404.60" font-size="11.3" text-anchor="middle" font-weight="bold" font-style="normal" fill="#000" >0.5</text>
<text id="t74" x="415.00" y="404.60" font-size="11.3" text-anchor="middle" font-weight="bold" font-style="normal" fill="#000" >1</text>
<text id="t75" x="452.30" y="404.60" font-size="11.3" text-anchor="middle" font-weight="bold" font-style="normal" fill="#000" >2</text>
<text id="t76" x="488.80" y="404.60" font-size="11.3" text-anchor="middle" font-weight="bold" font-style="normal" fill="#000" >4</text>
<text id="t77" x="432.70" y="417.10" font-size="11.6" text-anchor="middle" font-weight="bold" font-style="normal" fill="#000" >Wall shear stress (dyn/cm<tspan font-size="8.7" dy="-2.8">2</tspan><tspan dy="2.8">)</tspan></text>
<text id="t78" transform="translate(327.60,313.70) rotate(-90)" font-size="11.5" text-anchor="middle" font-weight="bold">Cells/field of view</text>
<rect x="463.20" y="242.80" width="10.40" height="9.70" fill="#000" stroke="#000" stroke-width="1.0"/>
<rect x="463.20" y="256.20" width="10.40" height="9.20" fill="#6b6b6b" stroke="#000" stroke-width="1.0"/>
<text id="t79" x="477.30" y="250.60" font-size="11.5" text-anchor="start" font-weight="bold" font-style="normal" fill="#000" >WT-tr</text>
<text id="t80" x="477.30" y="264.40" font-size="11.5" text-anchor="start" font-weight="bold" font-style="normal" fill="#000" ><tspan font-weight="normal">Δ</tspan>CD</text>
<text id="t81" x="-1.60" y="448.80" font-size="17.4" text-anchor="start" font-weight="bold" font-style="normal" fill="#000" >F</text>
<line x1="52.70" y1="455.50" x2="52.70" y2="616.50" stroke="#2a2a2a" stroke-width="1.1" />
<line x1="49.70" y1="613.50" x2="52.70" y2="613.50" stroke="#2a2a2a" stroke-width="1.1" />
<text id="t82" x="46.50" y="616.30" font-size="11.3" text-anchor="end" font-weight="bold" font-style="normal" fill="#000" >0</text>
<line x1="49.70" y1="593.81" x2="52.70" y2="593.81" stroke="#2a2a2a" stroke-width="1.1" />
<text id="t83" x="46.50" y="596.61" font-size="11.3" text-anchor="end" font-weight="bold" font-style="normal" fill="#000" >2</text>
<line x1="49.70" y1="574.12" x2="52.70" y2="574.12" stroke="#2a2a2a" stroke-width="1.1" />
<text id="t84" x="46.50" y="576.92" font-size="11.3" text-anchor="end" font-weight="bold" font-style="normal" fill="#000" >4</text>
<line x1="49.70" y1="554.43" x2="52.70" y2="554.43" stroke="#2a2a2a" stroke-width="1.1" />
<text id="t85" x="46.50" y="557.23" font-size="11.3" text-anchor="end" font-weight="bold" font-style="normal" fill="#000" >6</text>
<line x1="49.70" y1="534.74" x2="52.70" y2="534.74" stroke="#2a2a2a" stroke-width="1.1" />
<text id="t86" x="46.50" y="537.54" font-size="11.3" text-anchor="end" font-weight="bold" font-style="normal" fill="#000" >8</text>
<line x1="49.70" y1="515.05" x2="52.70" y2="515.05" stroke="#2a2a2a" stroke-width="1.1" />
<text id="t87" x="46.50" y="517.85" font-size="11.3" text-anchor="end" font-weight="bold" font-style="normal" fill="#000" >10</text>
<line x1="49.70" y1="495.36" x2="52.70" y2="495.36" stroke="#2a2a2a" stroke-width="1.1" />
<text id="t88" x="46.50" y="498.16" font-size="11.3" text-anchor="end" font-weight="bold" font-style="normal" fill="#000" >12</text>
<line x1="49.70" y1="475.67" x2="52.70" y2="475.67" stroke="#2a2a2a" stroke-width="1.1" />
<text id="t89" x="46.50" y="478.47" font-size="11.3" text-anchor="end" font-weight="bold" font-style="normal" fill="#000" >14</text>
<line x1="49.70" y1="455.98" x2="52.70" y2="455.98" stroke="#2a2a2a" stroke-width="1.1" />
<text id="t90" x="46.50" y="458.78" font-size="11.3" text-anchor="end" font-weight="bold" font-style="normal" fill="#000" >16</text>
<line x1="49.70" y1="613.50" x2="254.00" y2="613.50" stroke="#2a2a2a" stroke-width="1.1" />
<line x1="52.70" y1="613.50" x2="52.70" y2="616.50" stroke="#2a2a2a" stroke-width="1.1" />
<text id="t91" x="52.10" y="628.90" font-size="11.3" text-anchor="middle" font-weight="bold" font-style="normal" fill="#000" >0</text>
<line x1="103.00" y1="613.50" x2="103.00" y2="616.50" stroke="#2a2a2a" stroke-width="1.1" />
<text id="t92" x="102.40" y="628.90" font-size="11.3" text-anchor="middle" font-weight="bold" font-style="normal" fill="#000" >5</text>
<line x1="153.30" y1="613.50" x2="153.30" y2="616.50" stroke="#2a2a2a" stroke-width="1.1" />
<text id="t93" x="152.70" y="628.90" font-size="11.3" text-anchor="middle" font-weight="bold" font-style="normal" fill="#000" >10</text>
<line x1="203.60" y1="613.50" x2="203.60" y2="616.50" stroke="#2a2a2a" stroke-width="1.1" />
<text id="t94" x="203.00" y="628.90" font-size="11.3" text-anchor="middle" font-weight="bold" font-style="normal" fill="#000" >15</text>
<line x1="253.90" y1="613.50" x2="253.90" y2="616.50" stroke="#2a2a2a" stroke-width="1.1" />
<text id="t95" x="253.30" y="628.90" font-size="11.3" text-anchor="middle" font-weight="bold" font-style="normal" fill="#000" >20</text>
<text id="t96" x="151.15" y="640.60" font-size="11.6" text-anchor="middle" font-weight="bold" font-style="normal" fill="#000" >Wall shear stress (dyn/cm<tspan font-size="8.7" dy="-2.8">2</tspan><tspan dy="2.8">)</tspan></text>
<text id="t97" transform="translate(28.90,532.00) rotate(-90)" font-size="11.7" text-anchor="middle" font-weight="bold">Rolling velocity (<tspan font-weight="normal">μ</tspan>m/s)</text>
<line x1="92.40" y1="509.80" x2="92.40" y2="529.30" stroke="#111" stroke-width="1.1" />
<line x1="90.30" y1="509.80" x2="94.50" y2="509.80" stroke="#111" stroke-width="1.4" />
<line x1="90.30" y1="529.30" x2="94.50" y2="529.30" stroke="#111" stroke-width="1.4" />
<line x1="92.40" y1="536.50" x2="92.40" y2="551.40" stroke="#111" stroke-width="1.1" />
<line x1="90.30" y1="536.50" x2="94.50" y2="536.50" stroke="#111" stroke-width="1.4" />
<line x1="90.30" y1="551.40" x2="94.50" y2="551.40" stroke="#111" stroke-width="1.4" />
<line x1="132.50" y1="495.90" x2="132.50" y2="517.00" stroke="#111" stroke-width="1.1" />
<line x1="130.40" y1="495.90" x2="134.60" y2="495.90" stroke="#111" stroke-width="1.4" />
<line x1="130.40" y1="517.00" x2="134.60" y2="517.00" stroke="#111" stroke-width="1.4" />
<line x1="132.50" y1="524.50" x2="132.50" y2="541.10" stroke="#111" stroke-width="1.1" />
<line x1="130.40" y1="524.50" x2="134.60" y2="524.50" stroke="#111" stroke-width="1.4" />
<line x1="130.40" y1="541.10" x2="134.60" y2="541.10" stroke="#111" stroke-width="1.4" />
<line x1="213.30" y1="464.30" x2="213.30" y2="491.00" stroke="#111" stroke-width="1.1" />
<line x1="211.20" y1="464.30" x2="215.40" y2="464.30" stroke="#111" stroke-width="1.4" />
<line x1="211.20" y1="491.00" x2="215.40" y2="491.00" stroke="#111" stroke-width="1.4" />
<line x1="213.30" y1="499.40" x2="213.30" y2="512.00" stroke="#111" stroke-width="1.1" />
<line x1="211.20" y1="499.40" x2="215.40" y2="499.40" stroke="#111" stroke-width="1.4" />
<line x1="211.20" y1="512.00" x2="215.40" y2="512.00" stroke="#111" stroke-width="1.4" />
<line x1="62.10" y1="541.90" x2="62.10" y2="547.70" stroke="#111" stroke-width="1.1" />
<line x1="60.30" y1="541.90" x2="63.90" y2="541.90" stroke="#111" stroke-width="1.4" />
<line x1="60.30" y1="547.70" x2="63.90" y2="547.70" stroke="#111" stroke-width="1.4" />
<line x1="72.00" y1="523.60" x2="72.00" y2="534.60" stroke="#111" stroke-width="1.1" />
<line x1="70.20" y1="523.60" x2="73.80" y2="523.60" stroke="#111" stroke-width="1.4" />
<line x1="70.20" y1="534.60" x2="73.80" y2="534.60" stroke="#111" stroke-width="1.4" />
<line x1="57.30" y1="557.60" x2="57.30" y2="563.00" stroke="#111" stroke-width="1.1" />
<line x1="55.50" y1="557.60" x2="59.10" y2="557.60" stroke="#111" stroke-width="1.4" />
<line x1="55.50" y1="563.00" x2="59.10" y2="563.00" stroke="#111" stroke-width="1.4" />
<rect x="53.00" y="558.80" width="8.6" height="8.6" fill="#fff" stroke="#000" stroke-width="1.25"/>
<polygon points="56.9,568.2 60.699999999999996,572.5 56.9,576.8 53.1,572.5" fill="#fff" stroke="#000" stroke-width="1.25"/>
<rect x="57.80" y="543.50" width="8.6" height="8.6" fill="#fff" stroke="#000" stroke-width="1.25"/>
<polygon points="62.4,552.0 66.2,556.3 62.4,560.5999999999999 58.6,556.3" fill="#fff" stroke="#000" stroke-width="1.25"/>
<rect x="67.80" y="524.70" width="8.6" height="8.6" fill="#fff" stroke="#000" stroke-width="1.25"/>
<polygon points="72.4,546.4000000000001 76.2,550.7 72.4,555.0 68.60000000000001,550.7" fill="#fff" stroke="#000" stroke-width="1.25"/>
<rect x="88.00" y="515.40" width="8.6" height="8.6" fill="#fff" stroke="#000" stroke-width="1.25"/>
<polygon points="92.4,539.2 96.2,543.5 92.4,547.8 88.60000000000001,543.5" fill="#fff" stroke="#000" stroke-width="1.25"/>
<rect x="128.30" y="502.40" width="8.6" height="8.6" fill="#fff" stroke="#000" stroke-width="1.25"/>
<polygon points="132.5,528.7 136.3,533.0 132.5,537.3 128.7,533.0" fill="#fff" stroke="#000" stroke-width="1.25"/>
<rect x="209.10" y="473.70" width="8.6" height="8.6" fill="#fff" stroke="#000" stroke-width="1.25"/>
<polygon points="213.3,502.3 217.10000000000002,506.6 213.3,510.90000000000003 209.5,506.6" fill="#fff" stroke="#000" stroke-width="1.25"/>
<text id="t98" x="72.40" y="524.30" font-size="11" text-anchor="middle" font-weight="bold" font-style="normal" fill="#000" >*</text>
<text id="t99" x="92.50" y="509.40" font-size="11" text-anchor="middle" font-weight="bold" font-style="normal" fill="#000" >*</text>
<text id="t100" x="132.40" y="492.80" font-size="11" text-anchor="middle" font-weight="bold" font-style="normal" fill="#000" >*</text>
<text id="t101" x="213.20" y="461.00" font-size="11" text-anchor="middle" font-weight="bold" font-style="normal" fill="#000" >*</text>
<text id="t102" x="109.60" y="461.90" font-size="9.5" text-anchor="start" font-weight="bold" font-style="normal" fill="#000" >*</text>
<text id="t103" x="115.00" y="464.60" font-size="12.5" text-anchor="start" font-weight="bold" font-style="normal" fill="#000" ><tspan font-style="italic">P</tspan> &lt; .05</text>
<polygon points="193.1,572.3000000000001 196.9,576.6 193.1,580.9 189.29999999999998,576.6" fill="#fff" stroke="#000" stroke-width="1.25"/>
<rect x="188.6" y="585.2" width="8.6" height="8.2" fill="#fff" stroke="#000" stroke-width="1.4"/>
<text id="t104" x="199.90" y="579.60" font-size="11.5" text-anchor="start" font-weight="bold" font-style="normal" fill="#000" >WT-tr</text>
<text id="t105" x="199.90" y="592.80" font-size="11.5" text-anchor="start" font-weight="bold" font-style="normal" fill="#000" ><tspan font-weight="normal">Δ</tspan>CD</text>
<text id="t106" x="293.10" y="448.40" font-size="17.4" text-anchor="start" font-weight="bold" font-style="normal" fill="#000" >G</text>
<text id="t107" x="351.80" y="491.50" font-size="11.4" text-anchor="middle" font-weight="bold" font-style="normal" fill="#000" >WT</text>
<text id="t108" x="463.90" y="491.50" font-size="11.4" text-anchor="middle" font-weight="bold" font-style="normal" fill="#000" ><tspan font-weight="normal">Δ</tspan>CD</text>
<rect x="295.4" y="496.0" width="106.40000000000003" height="79.60000000000002" fill="#303030"/>
<svg x="295.4" y="496.0" width="106.40000000000003" height="79.60000000000002" viewBox="295.4 496.0 106.40000000000003 79.60000000000002" overflow="hidden">
<ellipse cx="323.3" cy="533.3" rx="27.2" ry="25.2" fill="none" stroke="url(#hg)" stroke-width="3.2" filter="url(#bl1)"/>
<ellipse cx="324.3" cy="529.8" rx="25.0" ry="23.0" fill="#2a2a2a" filter="url(#bl1)"/>
<polyline points="347,538.5 356,540 368,541.5 380,542.5" fill="none" stroke="#666" stroke-width="1.4" filter="url(#bl05)"/>
</svg>
<ellipse cx="324.3" cy="529.8" rx="24.0" ry="22.0" fill="#070707"/>
<path d="M338.4,524 A17,16.2 0 1 0 313.6,541.9 L314.2,540.2 L318.8,537.8 L317.1,533.2 L322.8,531 L327.5,525.7 L333,524.5 Z" fill="#f4f4f4" filter="url(#bl03)"/>
<path d="M322,530 L329,526.5 L334,526 L330,528.5 L324,532 Z" fill="#666" filter="url(#bl03)"/>
<polygon points="380.9,542.8 390.8,548.6 385.9,553.1" fill="#f0f0f0"/>
<rect x="390.2" y="571.0" width="8.6" height="2.3" fill="#f0f0f0"/>
<rect x="411.6" y="496.0" width="108.39999999999998" height="79.60000000000002" fill="#303030"/>
<svg x="411.6" y="496.0" width="108.39999999999998" height="79.60000000000002" viewBox="411.6 496.0 108.39999999999998 79.60000000000002" overflow="hidden">
<ellipse cx="447.0" cy="538.5" rx="25.099999999999998" ry="25.4" fill="none" stroke="url(#hg)" stroke-width="3.2" filter="url(#bl1)"/>
<ellipse cx="448.0" cy="535.0" rx="22.9" ry="23.2" fill="#2a2a2a" filter="url(#bl1)"/>
<polyline points="469,536.2 480,537.4 492,538.2 502,538.6" fill="none" stroke="#666" stroke-width="1.4" filter="url(#bl05)"/>
</svg>
<ellipse cx="448.0" cy="535.0" rx="21.9" ry="22.2" fill="#070707"/>
<path d="M460.5,533 A16.7,16.3 0 1 0 434.9,545.8 L438.9,539.8 L444.3,540.4 L450.4,538.4 Z" fill="#f4f4f4" filter="url(#bl03)"/>
<path d="M451.5,527 L456,527.5 L457,530 L454.5,533 L451,531.5 Z" fill="#1a1a1a" filter="url(#bl03)"/><path d="M443,529 L447,528.5 L448,534 L444,536 Z" fill="#8a8a8a" filter="url(#bl03)"/>
<polygon points="492.2,542.9 501.7,548.2 496.7,551.8" fill="#f0f0f0"/>
<rect x="507.6" y="571.0" width="8.6" height="2.3" fill="#f0f0f0"/>
</svg>
</body></html>
